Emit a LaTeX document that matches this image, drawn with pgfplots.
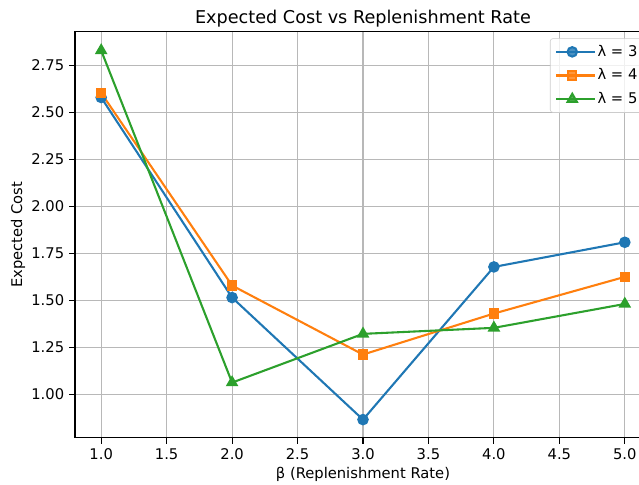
\documentclass[border=0pt]{standalone}
\usepackage{fontspec}
\setmainfont{DejaVu Sans}
\usepackage{pgfplots}
\pgfplotsset{compat=1.18}
\definecolor{tabblue}{HTML}{1F77B4}
\definecolor{taborange}{HTML}{FF7F0E}
\definecolor{tabgreen}{HTML}{2CA02C}
\definecolor{gridgray}{HTML}{B8B8B8}
\begin{document}
\begin{tikzpicture}
\begin{axis}[
  scale only axis,
  width=414.7pt, height=292.3pt,
  xmin=0.8, xmax=5.2,
  ymin=0.771, ymax=2.93,
  xtick={1,1.5,2,2.5,3,3.5,4,4.5,5},
  ytick={1,1.25,1.5,1.75,2,2.25,2.5,2.75},
  xticklabel style={/pgf/number format/.cd,fixed,fixed zerofill,precision=1},
  yticklabel style={/pgf/number format/.cd,fixed,fixed zerofill,precision=2},
  /pgf/number format/assume math mode=true,
  tick label style={font=\fontsize{10.6}{12.7}\selectfont},
  tick align=outside,
  major tick length=4.3pt,
  tick style={black, line width=0.8pt},
  xtick pos=bottom, ytick pos=left,
  axis line style={line width=0.8pt},
  grid=major,
  major grid style={gridgray, line width=0.8pt},
  title={Expected Cost vs Replenishment Rate},
  title style={font=\fontsize{12.7}{15}\selectfont, at={(0.5,1)}, anchor=base, yshift=0pt},
  xlabel={β (Replenishment Rate)},
  ylabel={Expected Cost},
  label style={font=\fontsize{10.6}{12.7}\selectfont},
  xlabel style={at={(axis description cs:0.5,-0.1)}, anchor=base},
  ylabel style={at={(axis description cs:-0.092,0.5)}, anchor=base},
  legend style={at={(1,1)}, anchor=north east, xshift=-5pt, yshift=-4.75pt,
    draw=black!20, rounded corners=2pt, fill=white, fill opacity=0.8, text opacity=1,
    font=\fontsize{10.6}{12.7}\selectfont, row sep=5pt, inner sep=3.6pt,
    nodes={text height=8pt, text depth=2pt, inner sep=1pt}},
  legend cell align=left,
  legend image code/.code={\path (0pt,0pt) -- (28pt,0pt);\draw[mark repeat=2,mark phase=2] plot coordinates {(0pt,0pt) (11.5pt,0pt) (23pt,0pt)};},
  every axis plot/.append style={line width=1.5pt},
]
\addplot[tabblue, mark=*, mark size=3.4pt] coordinates {
  (1,2.580) (2,1.516) (3,0.867) (4,1.679) (5,1.810)};
\addlegendentry{λ = 3}
\addplot[taborange, mark=square*, mark size=3.0pt] coordinates {
  (1,2.604) (2,1.580) (3,1.213) (4,1.431) (5,1.626)};
\addlegendentry{λ = 4}
\addplot[tabgreen, mark=triangle*, mark size=3.8pt] coordinates {
  (1,2.830) (2,1.064) (3,1.323) (4,1.355) (5,1.482)};
\addlegendentry{λ = 5}
\end{axis}
\pgfresetboundingbox
\path[use as bounding box] ([xshift=-54pt,yshift=-33.8pt]current axis.south west) rectangle ([xshift=-8.64pt,yshift=22.8pt]current axis.north east);
\end{tikzpicture}
\end{document}
